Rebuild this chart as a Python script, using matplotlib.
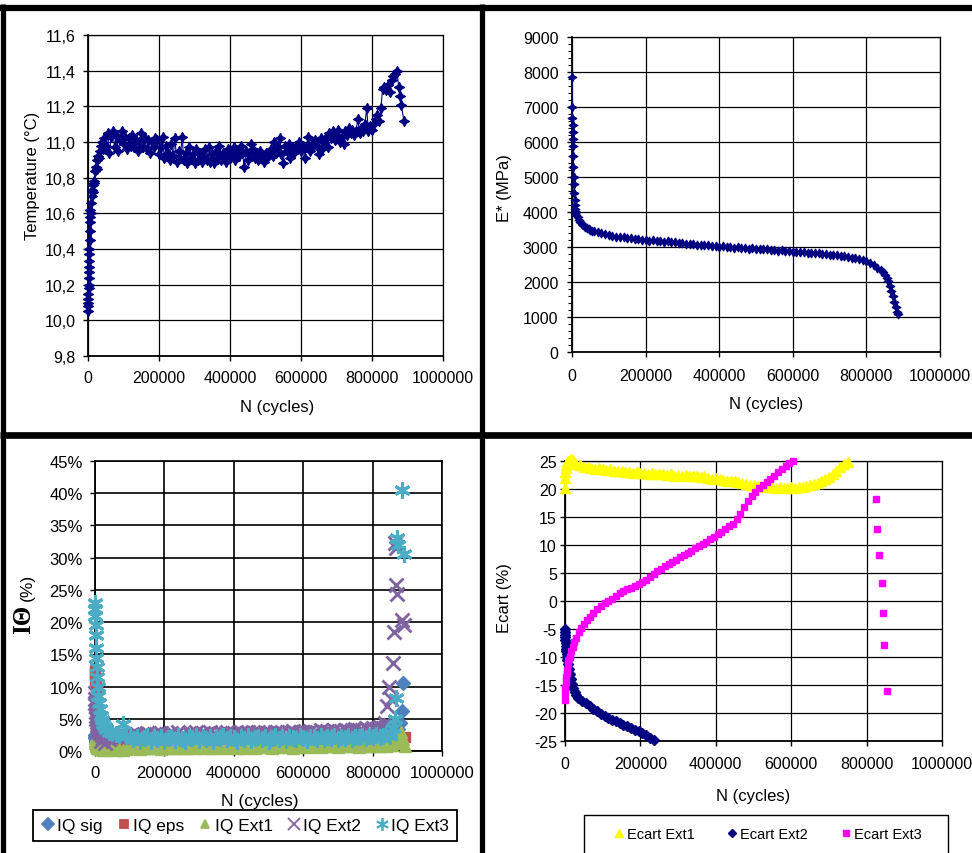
import matplotlib
matplotlib.use("Agg")
import matplotlib.pyplot as plt
from matplotlib.lines import Line2D
from matplotlib.patches import Rectangle
from matplotlib.ticker import FixedLocator, MultipleLocator

plt.rcParams['font.family'] = ['Liberation Sans', 'DejaVu Sans']
plt.rcParams['axes.unicode_minus'] = False

# ---------------------------------------------------------------- data
cycle_ticks = [0, 200000, 400000, 600000, 800000, 1000000]
cycle_tick_labels = ['0', '200000', '400000', '600000', '800000', '1000000']

# Temperature (°C) versus number of cycles
temp_cycles_start = [0, 300, 600, 900, 1200, 1500, 1800, 2100, 2400, 2700, 3000, 3500,
                     4000, 4500, 5000, 5500, 6000, 7000, 8000, 9000, 10000, 11500, 13000,
                     14500, 16000, 18000, 20000, 22000, 24000, 26000, 28000, 30000, 33000,
                     36000, 39000, 42000]
temp_start = [10.05, 10.08, 10.10, 10.12, 10.15, 10.18, 10.20, 10.24, 10.27, 10.30, 10.33,
              10.37, 10.40, 10.45, 10.50, 10.55, 10.58, 10.62, 10.60, 10.66, 10.70, 10.73,
              10.72, 10.76, 10.78, 10.77, 10.84, 10.86, 10.85, 10.90, 10.92, 10.91, 10.95,
              10.98, 11.00, 10.96]
temp_cycles_mid = list(range(45000, 790000, 5000))
temp_mid = [11.02, 10.98, 11.05, 10.94, 11.03, 11.06, 10.97, 11.04, 10.95, 11.01,
            11.06, 10.99, 11.03, 10.96, 11.02, 10.98, 11.04, 10.97, 11.01, 10.95,
            11.00, 11.05, 10.97, 11.02, 10.96, 11.01, 10.94, 11.00, 10.97, 11.02,
            11.01, 10.93, 10.97, 11.03, 10.91, 10.98, 10.94, 10.90, 10.99, 10.92,
            11.02, 10.89, 10.95, 10.91, 11.03, 10.90, 10.94, 10.88, 10.97, 10.91,
            10.93, 10.88, 10.96, 10.90, 10.94, 10.89, 10.92, 10.96, 10.90, 10.97,
            10.89, 10.93, 10.88, 10.95, 10.91, 10.98, 10.90, 10.94, 10.92, 10.89,
            10.96, 10.91, 10.93, 10.97, 10.90, 10.95, 10.92, 10.98, 10.94, 10.86,
            10.95, 10.90, 10.93, 10.99, 10.96, 10.91, 10.94, 10.90, 10.95, 10.92,
            10.89, 10.94, 10.91, 10.93, 10.96, 10.92, 11.00, 10.94, 10.97, 11.02,
            10.93, 10.88, 10.98, 10.95, 10.99, 10.91, 10.97, 10.94, 10.98, 10.96,
            11.00, 10.95, 10.98, 10.91, 10.97, 11.03, 10.95, 10.99, 10.97, 11.01,
            10.98, 10.93, 11.02, 10.96, 11.00, 11.03, 10.97, 11.05, 11.02, 11.06,
            11.01, 11.04, 11.07, 11.00, 11.03, 10.99, 11.06, 11.04, 11.08, 11.05,
            11.07, 11.04, 11.06, 11.13, 11.05, 11.08, 11.06, 11.10, 11.19]
temp_cycles_end = [790000, 795000, 800000, 805000, 810000, 815000, 820000, 825000, 830000,
                   835000, 840000, 845000, 850000, 855000, 860000, 865000, 870000, 875000,
                   878000, 882000, 890000]
temp_end = [11.06, 11.09, 11.07, 11.10, 11.13, 11.15, 11.12, 11.19, 11.30, 11.31, 11.29,
            11.32, 11.28, 11.35, 11.37, 11.38, 11.40, 11.31, 11.26, 11.21, 11.12]
temp_ticks = [9.8, 10.0, 10.2, 10.4, 10.6, 10.8, 11.0, 11.2, 11.4, 11.6]
temp_tick_labels = ['9,8', '10,0', '10,2', '10,4', '10,6', '10,8', '11,0', '11,2', '11,4', '11,6']

# Complex modulus E* (MPa) versus number of cycles
estar_cycles_start = [0, 500, 1000, 1500, 2000, 2500, 3000, 3500, 4000, 4500, 5000, 6000,
                      7000, 8000, 9000, 10000, 12000, 15000, 18000, 22000, 26000, 30000,
                      35000, 40000, 45000, 50000, 55000, 60000, 70000, 80000, 90000, 100000]
estar_start = [7850, 7000, 6700, 6500, 6300, 6100, 5900, 5600, 5300, 5000, 4800, 4550,
               4350, 4200, 4080, 4000, 3920, 3850, 3780, 3720, 3660, 3620, 3580, 3550,
               3520, 3490, 3470, 3450, 3420, 3390, 3360, 3340]
estar_cycles_mid = list(range(110000, 800000, 10000))
estar_mid = [3310, 3300, 3280, 3275, 3250, 3255, 3230, 3235, 3200, 3210,
             3180, 3190, 3160, 3170, 3150, 3160, 3130, 3140, 3110, 3120,
             3100, 3080, 3095, 3060, 3070, 3045, 3055, 3030, 3040, 3010,
             3020, 3000, 3010, 2985, 2995, 2970, 2980, 2955, 2965, 2940,
             2950, 2930, 2935, 2910, 2920, 2895, 2905, 2880, 2885, 2860,
             2870, 2850, 2855, 2830, 2840, 2815, 2820, 2800, 2805, 2780,
             2770, 2760, 2740, 2730, 2710, 2700, 2680, 2660, 2630]
estar_cycles_end = [800000, 810000, 820000, 830000, 840000, 845000, 850000, 855000, 860000,
                    864000, 868000, 872000, 876000, 880000, 884000, 886000]
estar_end = [2590, 2540, 2480, 2410, 2330, 2280, 2200, 2120, 2020, 1900, 1750, 1600, 1420,
             1280, 1150, 1080]

# Quality indices (%) versus number of cycles
iq_cycles_start = [0, 500, 1000, 1500, 2000, 3000, 4000, 5000, 6500, 8000, 10000, 12000,
                   14000, 17000, 20000, 24000, 28000, 33000, 40000, 50000, 60000, 70000,
                   80000, 90000, 100000]
iq_cycles_mid = list(range(110000, 860000, 10000))

iq_sig_start = [2.5, 2.2, 2.0, 1.8, 1.6, 1.5, 1.4, 1.3, 1.2, 1.2, 1.1, 1.1, 1.0, 1.0, 1.0,
                0.9, 1.0, 0.9, 1.0, 1.1, 1.0, 1.2, 1.1, 1.0, 1.2]
iq_sig_mid = [1.1, 1.3, 1.0, 1.2, 1.4, 1.1, 1.3, 1.2, 1.0, 1.3,
              1.2, 1.4, 1.1, 1.3, 1.2, 1.0, 1.4, 1.2, 1.3, 1.1,
              1.4, 1.2, 1.3, 1.5, 1.2, 1.4, 1.3, 1.1, 1.2, 1.4,
              1.3, 1.5, 1.2, 1.4, 1.6, 1.3, 1.5, 1.4, 1.2, 1.5,
              1.3, 1.4, 1.6, 1.3, 1.5, 1.4, 1.2, 1.5, 1.4, 1.6,
              1.3, 1.5, 1.4, 1.6, 1.5, 1.3, 1.6, 1.4, 1.5, 1.7,
              1.4, 1.6, 1.5, 1.7, 1.5, 1.6, 1.8, 1.5, 1.7, 1.6,
              1.8, 1.6, 1.9, 1.7, 2.0]
iq_sig_cycles_end = [855000, 865000, 872000, 878000, 884000, 888000]
iq_sig_end = [2.0, 2.6, 3.4, 4.4, 6.2, 10.6]

iq_eps_start = [12.5, 12.0, 11.0, 10.0, 9.0, 7.5, 6.0, 5.0, 4.2, 3.5, 3.0, 2.5, 2.2, 2.0,
                1.8, 1.6, 1.4, 1.3, 1.2, 1.1, 1.0, 1.0, 0.9, 1.0, 0.9]
iq_eps_mid = [0.9, 0.8, 1.0, 0.7, 0.9, 0.8, 1.0, 0.7, 0.9, 0.8,
              1.0, 0.9, 0.7, 0.9, 0.8, 1.0, 0.8, 0.9, 0.7, 1.0,
              0.9, 0.8, 1.0, 0.9, 0.8, 1.0, 0.9, 1.1, 0.8, 1.0,
              0.9, 1.1, 1.0, 0.9, 1.1, 1.0, 0.8, 1.0, 0.9, 1.1,
              1.0, 0.9, 1.1, 1.0, 0.8, 1.0, 1.1, 0.9, 1.0, 1.1,
              0.9, 1.0, 1.1, 1.0, 0.9, 1.1, 1.0, 1.2, 1.0, 1.1,
              0.9, 1.1, 1.0, 1.2, 1.1, 1.0, 1.2, 1.1, 1.0, 1.2,
              1.1, 1.3, 1.1, 1.2, 1.3]
iq_eps_cycles_end = [860000, 875000, 885000, 893000]
iq_eps_end = [1.3, 1.5, 1.8, 2.2]

iq_ext1_start = [2.0, 1.5, 1.2, 1.0, 0.9, 0.8, 0.7, 0.6, 0.5, 0.5, 0.4, 0.4, 0.3, 0.3, 0.3,
                 0.2, 0.3, 0.2, 0.3, 0.3, 0.2, 0.3, 0.2, 0.3, 0.4]
iq_ext1_mid = [0.4, 0.5, 0.3, 0.5, 0.4, 0.6, 0.4, 0.5, 0.3, 0.5,
               0.4, 0.6, 0.5, 0.4, 0.6, 0.5, 0.4, 0.6, 0.5, 0.7,
               0.5, 0.6, 0.4, 0.6, 0.5, 0.7, 0.6, 0.5, 0.7, 0.6,
               0.4, 0.6, 0.5, 0.7, 0.6, 0.5, 0.7, 0.6, 0.8, 0.6,
               0.5, 0.7, 0.6, 0.8, 0.6, 0.7, 0.5, 0.7, 0.6, 0.8,
               0.7, 0.6, 0.8, 0.7, 0.6, 0.8, 0.7, 0.9, 0.7, 0.6,
               0.8, 0.7, 0.9, 0.7, 0.8, 0.6, 0.8, 0.9, 0.7, 0.8,
               0.9, 0.7, 0.9, 0.8, 1.0]
iq_ext1_cycles_end = [855000, 865000, 872000, 878000, 883000, 888000, 894000]
iq_ext1_end = [1.0, 1.2, 1.6, 2.4, 3.0, 1.8, 0.8]

iq_ext2_start = [9.0, 8.0, 7.5, 7.0, 6.0, 5.5, 5.0, 4.5, 4.0, 3.5, 3.2, 3.0, 2.8, 1.5, 2.5,
                 2.0, 1.2, 2.2, 1.8, 2.3, 2.5, 2.2, 2.6, 2.4, 2.5]
iq_ext2_mid = [2.5, 2.7, 2.4, 2.6, 2.8, 2.4, 2.7, 2.5, 2.8, 2.4,
               2.6, 2.8, 2.5, 2.9, 2.6, 2.4, 2.8, 2.7, 2.9, 2.5,
               2.8, 2.6, 2.9, 2.7, 2.5, 2.8, 2.6, 2.9, 2.7, 2.8,
               2.6, 2.9, 2.7, 3.0, 2.6, 2.8, 2.9, 2.7, 3.0, 2.8,
               2.7, 2.9, 2.8, 3.0, 2.7, 2.9, 3.1, 2.8, 3.0, 2.9,
               2.8, 3.1, 2.9, 3.0, 3.2, 2.9, 3.1, 3.0, 3.2, 3.0,
               3.1, 3.3, 3.1, 3.2, 3.4, 3.2, 3.3, 3.5, 3.3, 3.6,
               3.4, 3.7, 3.5, 3.8, 4.0]
iq_ext2_cycles_end = [835000, 842000, 846000, 852000, 859000, 861000, 864000, 867000,
                      868000, 870000, 885000, 891000]
iq_ext2_end = [4.4, 7.0, 10.0, 8.0, 13.7, 18.5, 32.3, 31.5, 25.7, 24.3, 20.3, 19.5]

iq_ext3_start = [23.0, 22.0, 21.0, 19.5, 18.0, 16.0, 14.5, 13.0, 11.5, 10.0, 8.5, 7.5, 6.5,
                 5.5, 4.8, 4.2, 3.8, 3.4, 3.0, 2.8, 2.6, 2.5, 4.2, 2.4, 2.3]
iq_ext3_mid = [1.8, 2.2, 1.5, 2.0, 2.3, 1.6, 2.1, 1.9, 2.2, 1.5,
               2.0, 2.2, 1.7, 2.3, 1.9, 1.6, 2.1, 2.0, 2.3, 1.7,
               2.1, 1.8, 2.2, 1.5, 2.1, 2.0, 2.3, 1.8, 2.2, 2.0,
               1.6, 2.1, 1.9, 2.3, 1.7, 2.0, 2.2, 1.8, 2.1, 1.6,
               2.0, 2.3, 1.9, 2.1, 1.7, 2.2, 2.0, 1.8, 2.3, 2.0,
               1.7, 2.1, 2.2, 1.9, 2.3, 1.8, 2.1, 2.0, 2.4, 1.9,
               2.2, 2.0, 2.3, 1.8, 2.2, 2.1, 2.4, 2.0, 2.3, 2.1,
               2.5, 2.2, 2.4, 2.6, 2.3]
iq_ext3_cycles_end = [850000, 858000, 864000, 866000, 870000, 873000, 885000, 891000]
iq_ext3_end = [2.8, 3.5, 5.0, 8.3, 33.0, 32.0, 40.5, 30.5]

iq_ticks = [0, 5, 10, 15, 20, 25, 30, 35, 40, 45]
iq_tick_labels = ['0%', '5%', '10%', '15%', '20%', '25%', '30%', '35%', '40%', '45%']

# Deviation between extensometers (%) versus number of cycles
ecart1_cycles_start = [0, 500, 1000, 1500, 2500, 4000, 6000, 9000, 12000, 16000, 20000,
                       25000, 30000, 40000, 50000, 60000]
ecart1_start = [20.2, 22.0, 23.0, 23.8, 24.3, 24.6, 24.8, 25.0, 25.2, 25.3, 25.1, 24.8,
                24.5, 24.2, 24.0, 23.9]
ecart1_cycles_mid = list(range(70000, 760000, 10000))
ecart1_mid = [23.8, 23.6, 23.7, 23.5, 23.4, 23.5, 23.3, 23.2,
              23.2, 23.0, 23.1, 22.9, 23.0, 22.8, 22.9, 22.7, 22.8, 22.7,
              22.6, 22.7, 22.5, 22.6, 22.4, 22.5, 22.4, 22.5, 22.3, 22.4,
              22.3, 22.2, 22.3, 22.0, 21.8, 21.9, 21.7, 21.6, 21.5, 21.4,
              21.4, 21.2, 21.1, 20.9, 20.8, 20.7, 20.5, 20.5, 20.4, 20.3,
              20.3, 20.2, 20.3, 20.2, 20.2, 20.3, 20.2, 20.3, 20.4, 20.5,
              20.7, 20.9, 21.1, 21.4, 21.8, 22.2, 22.7, 23.3, 23.9, 24.4, 24.9]

ecart2_cycles_start = [0, 300, 600, 900, 1200, 1500, 2000, 2500, 3000, 4000, 5000, 6000,
                       8000, 10000, 12000, 15000, 18000, 22000, 26000, 30000]
ecart2_start = [-5.0, -5.5, -6.0, -6.5, -7.0, -7.5, -8.0, -8.5, -9.0, -9.5, -10.0, -10.5,
                -11.3, -12.2, -13.0, -14.0, -14.8, -15.6, -16.2, -16.8]
ecart2_cycles_mid = list(range(35000, 245000, 10000))
ecart2_mid = [-17.3, -17.8, -18.2, -18.7, -19.2, -19.7, -20.1, -20.5, -20.9, -21.2, -21.5,
              -21.8, -22.1, -22.4, -22.7, -23.0, -23.3, -23.6, -24.0, -24.4, -24.9]

ecart3_cycles_start = [0, 500, 1000, 2000, 3000, 4000, 5000, 7000, 9000, 12000, 16000,
                       20000, 25000, 30000, 36000, 42000, 50000, 58000, 66000, 75000,
                       85000, 95000]
ecart3_start = [-17.7, -16.5, -15.5, -14.5, -13.6, -12.9, -12.3, -11.3, -10.6, -10.0, -9.0,
                -8.2, -7.3, -6.6, -5.6, -4.9, -4.1, -3.4, -2.8, -2.1, -1.5, -0.9]
ecart3_cycles_mid = list(range(105000, 615000, 10000))
ecart3_mid = [-0.4, 0.0, 0.4, 0.9, 1.4, 1.8, 2.1, 2.4, 2.7, 3.0,
              3.4, 3.8, 4.3, 4.8, 5.3, 5.8, 6.2, 6.6, 7.0, 7.4,
              7.8, 8.2, 8.6, 9.0, 9.4, 9.8, 10.2, 10.6, 11.0, 11.4,
              11.9, 12.4, 12.9, 13.4, 13.8, 14.6, 15.5, 16.7, 17.9, 18.7,
              19.4, 20.1, 20.7, 21.3, 21.8, 22.4, 23.0, 23.5, 24.1, 24.6, 25.0]
ecart3_cycles_end = [824000, 828000, 833000, 840000, 843000, 847000, 855000]
ecart3_end = [18.3, 12.9, 8.2, 3.3, -2.1, -7.8, -16.1]

ecart_ticks = [-25, -20, -15, -10, -5, 0, 5, 10, 15, 20, 25]

# ---------------------------------------------------------------- styling
NAVY = '#000080'
IQ_COLORS = {'sig': '#4F81BD', 'eps': '#C0504D', 'ext1': '#9BBB59',
             'ext2': '#8064A2', 'ext3': '#4BACC6'}
TICK_FS = 11.5
LABEL_FS = 12
W, H = 972, 854


def fig_rect(x0, y0, x1, y1):
    """Pixel box (top-left origin) -> figure fraction rectangle."""
    return [x0 / W, 1 - y1 / H, (x1 - x0) / W, (y1 - y0) / H]


def style_axes(ax, xpad, ypad, fs=TICK_FS, grid_lw=0.9):
    ax.set_xlim(0, 1000000)
    ax.xaxis.set_major_locator(FixedLocator(cycle_ticks))
    ax.set_xticklabels(cycle_tick_labels)
    ax.grid(True, color='black', linewidth=grid_lw)
    ax.set_axisbelow(True)
    for s in ax.spines.values():
        s.set_color('black')
        s.set_linewidth(grid_lw)
    ax.spines['left'].set_linewidth(1.3)
    ax.spines['bottom'].set_linewidth(1.3)
    ax.tick_params(direction='out', length=3.8, width=1, labelsize=fs, colors='black')
    ax.tick_params(axis='x', pad=xpad)
    ax.tick_params(axis='y', pad=ypad)


def cat(*parts):
    out = []
    for p in parts:
        out.extend(p)
    return out


fig = plt.figure(figsize=(W / 100, H / 100), dpi=100)
fig.patch.set_facecolor('white')

STAR4 = (4, 1, 0)

# ---- temperature
ax_t = fig.add_axes(fig_rect(88, 36, 443, 357))
ax_t.plot(cat(temp_cycles_start, temp_cycles_mid, temp_cycles_end),
          cat(temp_start, temp_mid, temp_end),
          color=NAVY, linewidth=0.8, marker=STAR4, markersize=7.5,
          markerfacecolor=NAVY, markeredgecolor=NAVY, markeredgewidth=0.8,
          clip_on=False, zorder=3)
style_axes(ax_t, xpad=6, ypad=5)
ax_t.set_ylim(9.8, 11.6)
ax_t.yaxis.set_major_locator(FixedLocator(temp_ticks))
ax_t.set_yticklabels(temp_tick_labels)
fig.text(33 / W, 1 - 176 / H, 'Temperature (°C)', rotation=90, ha='center', va='center',
         fontsize=LABEL_FS)
fig.text(277 / W, 1 - 408 / H, 'N (cycles)', ha='center', va='center', fontsize=LABEL_FS)

# ---- E*
ax_e = fig.add_axes(fig_rect(572, 38, 940, 353))
ax_e.plot(cat(estar_cycles_start, estar_cycles_mid, estar_cycles_end),
          cat(estar_start, estar_mid, estar_end),
          color=NAVY, linewidth=0.8, marker=STAR4, markersize=6.5,
          markerfacecolor=NAVY, markeredgecolor=NAVY, markeredgewidth=0.8,
          clip_on=False, zorder=3)
style_axes(ax_e, xpad=8, ypad=6)
ax_e.set_ylim(0, 9000)
ax_e.yaxis.set_major_locator(MultipleLocator(1000))
ax_e.yaxis.set_minor_locator(MultipleLocator(200))
ax_e.tick_params(axis='y', which='minor', direction='out', length=3, width=0.8)
fig.text(504 / W, 1 - 188 / H, 'E* (MPa)', rotation=90, ha='center', va='center',
         fontsize=LABEL_FS)
fig.text(766 / W, 1 - 405 / H, 'N (cycles)', ha='center', va='center', fontsize=LABEL_FS)

# ---- quality indices
ax_q = fig.add_axes(fig_rect(95, 462, 442, 752))
iq_series = [
    ('IQ sig', iq_sig_start, iq_sig_mid, iq_sig_cycles_end, iq_sig_end,
     IQ_COLORS['sig'], 'D', 7.5, 1.0),
    ('IQ eps', iq_eps_start, iq_eps_mid, iq_eps_cycles_end, iq_eps_end,
     IQ_COLORS['eps'], 's', 7.0, 1.0),
    ('IQ Ext1', iq_ext1_start, iq_ext1_mid, iq_ext1_cycles_end, iq_ext1_end,
     IQ_COLORS['ext1'], '^', 8.0, 1.0),
    ('IQ Ext2', iq_ext2_start, iq_ext2_mid, iq_ext2_cycles_end, iq_ext2_end,
     IQ_COLORS['ext2'], 'x', 10.5, 2.0),
    ('IQ Ext3', iq_ext3_start, iq_ext3_mid, iq_ext3_cycles_end, iq_ext3_end,
     IQ_COLORS['ext3'], (6, 2, 0), 11.5, 2.2),
]
iq_handles = []
for name, s0, s1, ce, se, col, mk, ms, mew in iq_series:
    h, = ax_q.plot(cat(iq_cycles_start, iq_cycles_mid, ce), cat(s0, s1, se),
                   linestyle='none', marker=mk, markersize=ms, color=col,
                   markerfacecolor=col, markeredgecolor=col, markeredgewidth=mew,
                   clip_on=False, zorder=3, label=name)
    iq_handles.append(h)
style_axes(ax_q, xpad=6, ypad=5, fs=12, grid_lw=1.2)
ax_q.set_ylim(0, 45)
ax_q.yaxis.set_major_locator(FixedLocator(iq_ticks))
ax_q.set_yticklabels(iq_tick_labels)
fig.text(24 / W, 1 - 619 / H, 'IΘ', rotation=90, ha='center', va='center',
         fontsize=18, fontweight='bold', family=['Liberation Serif', 'DejaVu Serif'])
fig.text(27 / W, 1 - 587 / H, '(%)', rotation=90, ha='center', va='center', fontsize=12.5)
fig.text(260 / W, 1 - 802 / H, 'N (cycles)', ha='center', va='center', fontsize=12.5)
leg_q = ax_q.legend(handles=iq_handles, loc='upper left',
                    bbox_to_anchor=(33 / W, 1 - 847 / H, 424 / W, 36 / H),
                    bbox_transform=fig.transFigure, mode='expand', ncol=5,
                    fontsize=12.5, handlelength=0.8, handletextpad=0.15,
                    columnspacing=0.8, borderpad=0.45, borderaxespad=0,
                    fancybox=False, framealpha=1, edgecolor='black', markerscale=0.8)
leg_q.get_frame().set_linewidth(1.3)
for lh in leg_q.legend_handles:
    lh.set_markeredgewidth(1.3)

# ---- deviations
ax_d = fig.add_axes(fig_rect(565, 462, 942, 742))
h1, = ax_d.plot(cat(ecart1_cycles_start, ecart1_cycles_mid), cat(ecart1_start, ecart1_mid),
                linestyle='none', marker='^', markersize=6.5, color='#FFFF00',
                markeredgecolor='#FFFF00', clip_on=False, zorder=3, label='Ecart Ext1')
h2, = ax_d.plot(cat(ecart2_cycles_start, ecart2_cycles_mid), cat(ecart2_start, ecart2_mid),
                linestyle='none', marker='D', markersize=5.0, color=NAVY,
                markeredgecolor=NAVY, clip_on=False, zorder=3, label='Ecart Ext2')
h3, = ax_d.plot(cat(ecart3_cycles_start, ecart3_cycles_mid, ecart3_cycles_end),
                cat(ecart3_start, ecart3_mid, ecart3_end),
                linestyle='none', marker='s', markersize=4.8, color='#FF00FF',
                markeredgecolor='#FF00FF', clip_on=False, zorder=3, label='Ecart Ext3')
style_axes(ax_d, xpad=7, ypad=2)
ax_d.set_ylim(-25, 25)
ax_d.yaxis.set_major_locator(FixedLocator(ecart_ticks))
fig.text(504 / W, 1 - 598 / H, 'Ecart (%)', rotation=90, ha='center', va='center',
         fontsize=LABEL_FS)
fig.text(753 / W, 1 - 797 / H, 'N (cycles)', ha='center', va='center', fontsize=LABEL_FS)
fig.add_artist(Rectangle((584 / W, 1 - 858 / H), 364 / W, 42 / H, transform=fig.transFigure,
                         fill=False, edgecolor='black', linewidth=1.0, zorder=5))
leg_d = ax_d.legend(handles=[h1, h2, h3], loc='center',
                    bbox_to_anchor=(768 / W, 1 - 835 / H),
                    bbox_transform=fig.transFigure, ncol=3, frameon=False,
                    fontsize=10.5, handlelength=0.6, handletextpad=0.25,
                    columnspacing=2.3, borderpad=0.3, borderaxespad=0, markerscale=0.9)

# ---- panel separators
sep = dict(color='black', solid_capstyle='butt', zorder=10)
fig.add_artist(Line2D([0, 1], [1 - 8.5 / H] * 2, linewidth=4.5, transform=fig.transFigure, **sep))
fig.add_artist(Line2D([0, 1], [1 - 435.5 / H] * 2, linewidth=4.8, transform=fig.transFigure, **sep))
fig.add_artist(Line2D([2.5 / W] * 2, [0, 1 - 5 / H], linewidth=3.8, transform=fig.transFigure, **sep))
fig.add_artist(Line2D([482 / W] * 2, [0, 1 - 5 / H], linewidth=3.8, transform=fig.transFigure, **sep))

fig.savefig('out.png', dpi=100, facecolor='white')
